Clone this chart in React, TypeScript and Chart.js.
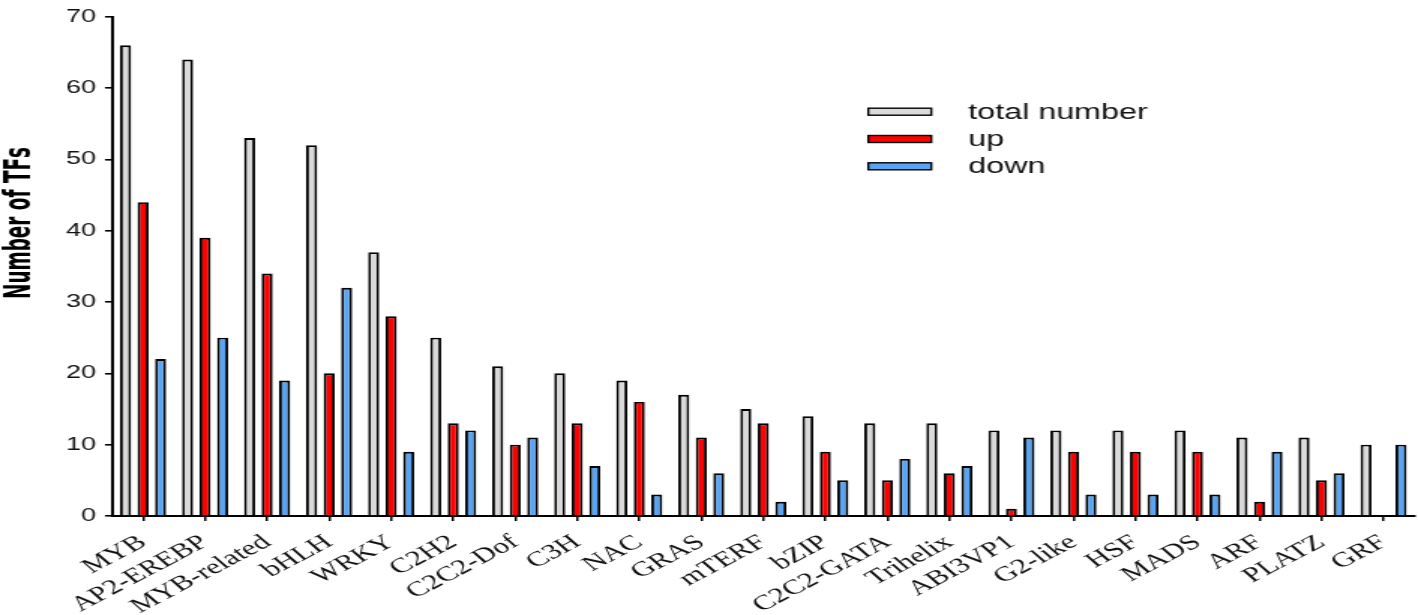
import React, { useEffect, useRef } from 'react';
import { Chart, registerables } from 'chart.js';

Chart.register(...registerables);

const categories = ['MYB', 'AP2-EREBP', 'MYB-related', 'bHLH', 'WRKY', 'C2H2', 'C2C2-Dof', 'C3H', 'NAC', 'GRAS', 'mTERF', 'bZIP', 'C2C2-GATA', 'Trihelix', 'ABI3VP1', 'G2-like', 'HSF', 'MADS', 'ARF', 'PLATZ', 'GRF'];
const totalNumber = [66, 64, 53, 52, 37, 25, 21, 20, 19, 17, 15, 14, 13, 13, 12, 12, 12, 12, 11, 11, 10];
const up = [44, 39, 34, 20, 28, 13, 10, 13, 16, 11, 13, 9, 5, 6, 1, 9, 9, 9, 2, 5, 0];
const down = [22, 25, 19, 32, 9, 12, 11, 7, 3, 6, 2, 5, 8, 7, 11, 3, 3, 3, 9, 6, 10];
const seriesNames = ['total number', 'up', 'down'];
const seriesColors = ['#dadada', '#ff0000', '#5aa5f3'];
const yTicks = [0, 10, 20, 30, 40, 50, 60, 70];
const yTitle = 'Number of TFs';

// The reference is horizontally stretched: the chart is drawn on a narrower canvas
// and the canvas is displayed stretched to the full page width.
const PAGE_W = 1418;
const PAGE_H = 615;
const STRETCH = 1.5;
const CANVAS_W = Math.round(PAGE_W / STRETCH);

const yTitlePlugin = {
  id: 'yTitleCustom',
  afterDraw(chart: any) {
    const ctx = chart.ctx;
    ctx.save();
    ctx.translate(20 / STRETCH, 223);
    ctx.rotate(-Math.PI / 2);
    ctx.font = 'bold 25px "Liberation Sans Narrow", "DejaVu Sans Condensed", "Liberation Sans", sans-serif';
    ctx.fillStyle = '#000';
    ctx.textAlign = 'center';
    ctx.textBaseline = 'middle';
    const w = ctx.measureText(yTitle).width;
    const target = 152;
    if (w > 0 && Math.abs(w - target) > 4) {
      ctx.scale(target / w, 1);
    }
    ctx.fillText(yTitle, 0, 0);
    ctx.restore();
  },
};

const legendPlugin = {
  id: 'legendCustom',
  afterDraw(chart: any) {
    const ctx = chart.ctx;
    ctx.save();
    const boxX = 868 / STRETCH;
    const boxW = 63 / STRETCH;
    const textX = 968 / STRETCH;
    chart.data.datasets.forEach((ds: any, i: number) => {
      const cy = 111.7 + i * 27.3;
      ctx.fillStyle = ds.backgroundColor;
      ctx.fillRect(boxX, cy - 3.5, boxW, 7);
      ctx.strokeStyle = '#000';
      ctx.lineWidth = 1.4;
      ctx.strokeRect(boxX, cy - 3.5, boxW, 7);
      ctx.fillStyle = '#111';
      ctx.font = '21.5px "Liberation Sans", Arial, sans-serif';
      ctx.textAlign = 'left';
      ctx.textBaseline = 'alphabetic';
      ctx.fillText(ds.label, textX, cy + 7);
    });
    ctx.restore();
  },
};

export default function App() {
  const ref = useRef<HTMLCanvasElement>(null);

  useEffect(() => {
    if (!ref.current) return;
    const seriesData = [totalNumber, up, down];
    const chart = new Chart(ref.current, {
      type: 'bar',
      data: {
        labels: categories,
        datasets: seriesNames.map((name, i) => ({
          label: name,
          data: seriesData[i],
          backgroundColor: seriesColors[i],
          borderColor: '#000',
          borderWidth: 1.9,
          borderSkipped: 'start',
          categoryPercentage: 0.847,
          barPercentage: 0.63,
        })),
      },
      options: {
        animation: false,
        responsive: false,
        devicePixelRatio: 1,
        layout: { padding: { top: 11, right: 2.3, left: 0, bottom: 0 } },
        plugins: {
          legend: { display: false },
          tooltip: { enabled: false },
          title: { display: false },
        },
        scales: {
          x: {
            grid: {
              display: true,
              drawOnChartArea: false,
              drawTicks: true,
              tickLength: 5,
              offset: false,
              color: '#000',
              lineWidth: 1.5,
            },
            border: { display: true, color: '#000', width: 2 },
            ticks: {
              autoSkip: false,
              minRotation: 38,
              maxRotation: 38,
              padding: 9,
              color: '#111',
              font: { family: '"Liberation Serif", "Times New Roman", serif', size: 21 },
            },
            afterFit: (s: any) => {
              s.height = 99;
              s.paddingLeft = 0;
              s.paddingRight = 0;
            },
          },
          y: {
            min: yTicks[0],
            max: yTicks[yTicks.length - 1],
            ticks: {
              stepSize: 10,
              padding: 6,
              color: '#111',
              font: { family: '"Liberation Sans", Arial, sans-serif', size: 18 },
            },
            grid: {
              display: true,
              drawOnChartArea: false,
              drawTicks: true,
              tickLength: 4.7,
              color: '#000',
              lineWidth: 1.6,
            },
            border: { display: true, color: '#000', width: 2 },
            afterFit: (s: any) => {
              s.width = 112 / STRETCH;
            },
          },
        },
      },
      plugins: [yTitlePlugin, legendPlugin],
    } as any);
    return () => chart.destroy();
  }, []);

  return (
    <div style={{ position: 'absolute', left: 0, top: 0, width: PAGE_W, height: PAGE_H, background: '#fff' }}>
      <canvas
        ref={ref}
        width={CANVAS_W}
        height={PAGE_H}
        style={{ width: PAGE_W + 'px', height: PAGE_H + 'px', display: 'block' }}
      />
    </div>
  );
}
